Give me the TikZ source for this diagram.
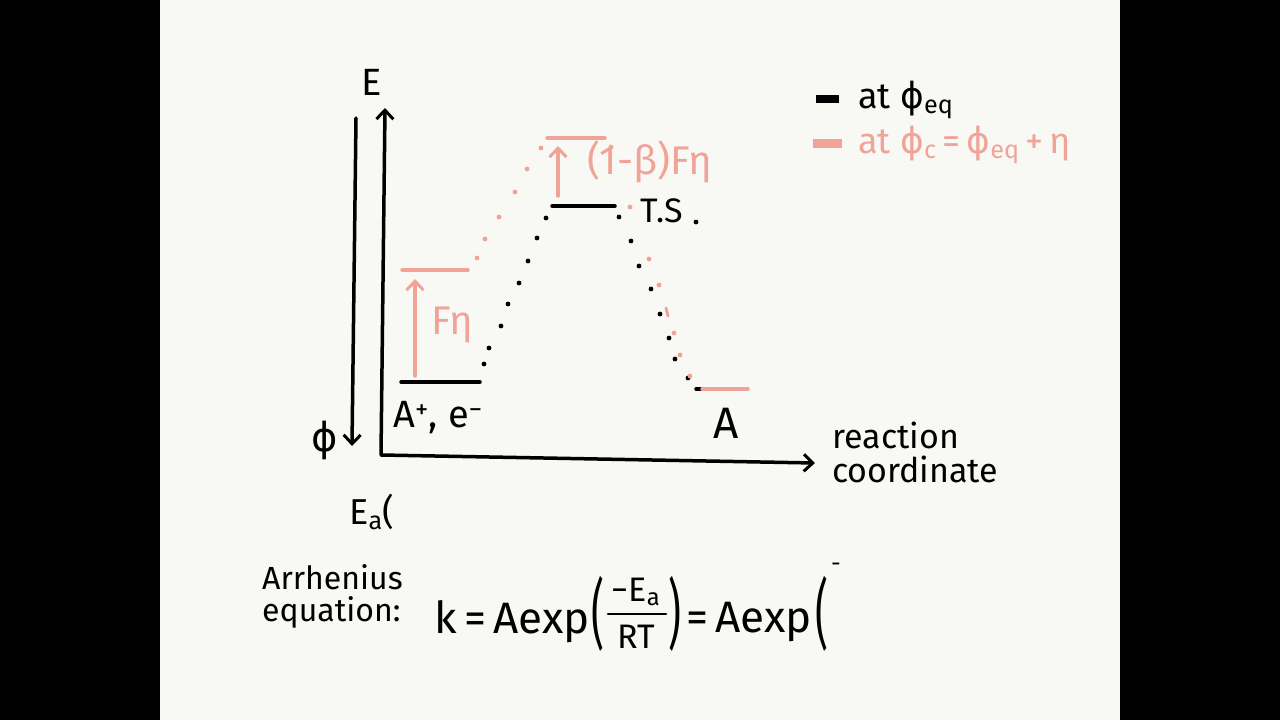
\documentclass[tikz,border=0pt]{standalone}
\usepackage{fontspec}
\setmainfont{Fira Sans}
\newfontfamily\gk{DejaVu Sans}
\usetikzlibrary{arrows.meta}
\definecolor{bg}{RGB}{248,248,245}
\definecolor{pk}{RGB}{241,163,152}
\newcommand\hwsize[1]{\fontsize{#1}{#1}\selectfont}
\newcommand\sphi{{\gk ϕ}}
\begin{document}
\begin{tikzpicture}[x=1pt,y=-1pt,
  barb/.tip={Straight Barb[length=9pt,width=17pt,line width=3pt]},
  axline/.style={line width=3.5pt,line cap=round,line join=round},
  lvl/.style={line width=3.5pt,line cap=round},
  pkarrow/.style={pk,line width=3.5pt,line cap=round,-{barb}},
  lbl/.style={inner sep=0pt},
]
\useasboundingbox (0,0) rectangle (1280,720);
\fill[black] (0,0) rectangle (1280,720);
\fill[bg] (160,0) rectangle (1120,720);

% axes
\coordinate (Etop) at (385,108);
\coordinate (O) at (381,455);
\coordinate (Rend) at (815,463);
\draw[axline,{barb}-{barb}] (Etop) -- (O) -- (Rend);
\coordinate (phitop) at (356,118);
\coordinate (phibot) at (352,446);
\draw[axline,-{barb}] (phitop) -- (phibot);

\node[lbl,font=\hwsize{38}] (E) at (372,82) {E};
\node[lbl,font=\hwsize{40}] (phi) at (325,440) {\sphi};

% black levels
\coordinate (l1a) at (401,382); \coordinate (l1b) at (480,382);
\draw[lvl] (l1a) -- (l1b);
\coordinate (l2a) at (552,206); \coordinate (l2b) at (615,206);
\draw[lvl] (l2a) -- (l2b);
\coordinate (l3a) at (696,389); \coordinate (l3m) at (702,389); \coordinate (l3b) at (748,389);
\draw[lvl] (l3a) -- (l3m);
\draw[lvl,pk] (l3m) -- (l3b);

% pink levels and arrows
\coordinate (p1a) at (402,270); \coordinate (p1b) at (468,270);
\draw[lvl,pk] (p1a) -- (p1b);
\coordinate (p2a) at (547,138); \coordinate (p2b) at (605,138);
\draw[lvl,pk] (p2a) -- (p2b);
\coordinate (a1s) at (415,376); \coordinate (a1e) at (415,279);
\draw[pkarrow] (a1s) -- (a1e);
\coordinate (a2s) at (558,196); \coordinate (a2e) at (558,146);
\draw[pkarrow] (a2s) -- (a2e);

% dotted curves
\foreach \p in {(484,364),(489,348),(501,326),(508,304),(519,283),(528,261),(537,238),(546,218),
                (619,217),(631,241),(639,266),(651,289),(660,314),(669,338),(675,359),(688,378),(696,222)}
  \fill[black] \p circle (2.4pt);
\foreach \p in {(477,258),(485,239),(499,217),(515,192),(527,169),(541,148),
                (611,147),(630,207),(649,259),(659,285),(674,333),(680,355),(690,376)}
  \fill[pk] \p circle (2.4pt);
\draw[pk,line width=3pt,line cap=round] (666,308) -- (668,316);

% labels on diagram
\node[lbl,font=\hwsize{38}] (reac) at (438,418) {A\textsuperscript{+}, e\textsuperscript{−}};
\node[lbl,font=\hwsize{34}] (ts) at (662,211) {T.S};
\node[lbl,font=\hwsize{44}] (prod) at (726,423) {A};
\node[lbl,pk,font=\hwsize{40}] (fn) at (452,325) {Fη};
\node[lbl,pk,font=\hwsize{40}] (bfn) at (650,162) {(1-β)Fη};

\node[lbl,font=\hwsize{34},align=left,anchor=west] (rc) at (832,452)
  {\hwsize{34}\baselineskip=30pt reaction\\coordinate};

% legend
\coordinate (k1a) at (816,99); \coordinate (k1b) at (839,99);
\draw[line width=8pt] (k1a) -- (k1b);
\node[lbl,font=\hwsize{36},anchor=west] (leg1) at (858,100) {at \sphi\textsubscript{eq}};
\coordinate (k2a) at (813,143); \coordinate (k2b) at (842,143);
\draw[pk,line width=9pt] (k2a) -- (k2b);
\node[lbl,pk,font=\hwsize{36},anchor=west] (leg2) at (858,145) {at \sphi\textsubscript{c}\,=\,\sphi\textsubscript{eq}\,+\,η};

% bottom
\node[lbl,font=\hwsize{36}] (ea) at (372,512) {E\textsubscript{a}(};
\node[lbl,font=\hwsize{32},align=left,anchor=west] (arr) at (262,596)
  {\hwsize{32}\baselineskip=34pt Arrhenius\\equation:};
\node[lbl,font=\hwsize{44},anchor=west] (eq1) at (434,622) {k\,=\,Aexp};
\node[lbl,font=\hwsize{40},yscale=1.9] (lp1) at (598,614) {(};
\node[lbl,font=\hwsize{34}] (num) at (636,592) {−E\textsubscript{a}};
\node[lbl,font=\hwsize{34}] (den) at (636,637) {RT};
\coordinate (fl) at (608,614); \coordinate (fr) at (666,614);
\draw[line width=2.5pt,line cap=round] (fl) -- (fr);
\node[lbl,font=\hwsize{40},yscale=1.9] (rp1) at (675,614) {)};
\node[lbl,font=\hwsize{44},anchor=west] (eq2) at (686,622) {=\,Aexp};
\node[lbl,font=\hwsize{40},yscale=1.9] (lp2) at (822,614) {(};
\node[lbl,font=\hwsize{24}] (mn) at (836,567) {-};
\end{tikzpicture}
\end{document}
